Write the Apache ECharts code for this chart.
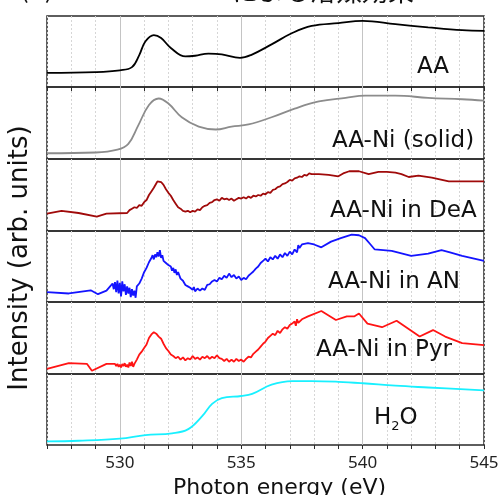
<!DOCTYPE html>
<html>

<head>
	<meta charset="UTF-8" />
	<title></title>
	<style type="text/css">
		* {
			margin: 0;
			padding: 0;
		}

		#main {
			width: 498px;
			height: 495px;
			background-color: #fff;
		}
	</style>
</head>

<body>
	<div id="main"></div>
</body>
<script src="https://cdn.jsdelivr.net/npm/echarts@6/dist/echarts.min.js"></script>
<script type="text/javascript">
	// 横軸のラベル (eV)
	var xLabels = [530, 535, 540, 545]
	var sampleNames = ['AA', 'AA-Ni (solid)', 'AA-Ni in DeA', 'AA-Ni in AN', 'AA-Ni in Pyr', 'H2O']

	// 各スペクトル [photon energy, intensity]
	var aaData = [[527, 0.20], [529, 0.21], [530, 0.235], [530.5, 0.28], [530.8, 0.45], [531.05, 0.64], [531.4, 0.73],
		[531.7, 0.69], [532.1, 0.55], [532.7, 0.43], [533.1, 0.44], [533.65, 0.47], [534.2, 0.46], [534.95, 0.41],
		[535.4, 0.45], [536.25, 0.60], [537.1, 0.76], [537.9, 0.86], [539.0, 0.90], [540.0, 0.93], [541.35, 0.885],
		[542.7, 0.84], [544.1, 0.80], [545, 0.79]]

	var solidData = [[527, 0.08], [529, 0.09], [529.9, 0.13], [530.35, 0.21], [530.75, 0.46], [531.2, 0.75], [531.6, 0.84],
		[532.0, 0.77], [532.55, 0.58], [533.25, 0.45], [533.95, 0.41], [534.6, 0.45], [535.3, 0.48], [536.25, 0.58],
		[537.2, 0.70], [538.2, 0.80], [539.3, 0.85], [540.1, 0.88], [541.35, 0.88], [542.7, 0.85], [544.1, 0.83], [545, 0.81]]

	var deaData = [[527, 0.24], [527.6, 0.28], [528.3, 0.25], [529.05, 0.20], [529.45, 0.24], [530.3, 0.25],
		[530.4, 0.29], [530.5, 0.31], [530.6, 0.33], [530.7, 0.32], [530.8, 0.36], [530.9, 0.35], [531.0, 0.40], [531.1, 0.43],
		[531.2, 0.50], [531.3, 0.55], [531.4, 0.60], [531.5, 0.66], [531.55, 0.69], [531.6, 0.67], [531.7, 0.68], [531.8, 0.64],
		[531.9, 0.58], [532.0, 0.53], [532.1, 0.49], [532.2, 0.43], [532.3, 0.38], [532.4, 0.33], [532.5, 0.31], [532.6, 0.28],
		[532.7, 0.27], [532.8, 0.28], [532.9, 0.26], [533.0, 0.28], [533.1, 0.27], [533.2, 0.30], [533.3, 0.29], [533.4, 0.33],
		[533.5, 0.35], [533.6, 0.36], [533.7, 0.39], [533.8, 0.40], [533.9, 0.43], [534.0, 0.44], [534.1, 0.42], [534.2, 0.46],
		[534.3, 0.44], [534.4, 0.45], [534.5, 0.43], [534.6, 0.45], [534.7, 0.42], [534.8, 0.44], [534.9, 0.46], [535.0, 0.45],
		[535.1, 0.47], [535.2, 0.45], [535.3, 0.48], [535.4, 0.46], [535.5, 0.49], [535.6, 0.48], [535.7, 0.50], [535.8, 0.49],
		[535.9, 0.52], [536.0, 0.51], [536.1, 0.54], [536.2, 0.53], [536.3, 0.57], [536.4, 0.58], [536.5, 0.61], [536.6, 0.62],
		[536.7, 0.65], [536.8, 0.66], [536.9, 0.68], [537.0, 0.71], [537.1, 0.70], [537.2, 0.73], [537.3, 0.74], [537.4, 0.76],
		[537.5, 0.75], [537.6, 0.78], [537.7, 0.77], [537.8, 0.80], [537.9, 0.79], [538.2, 0.79], [538.6, 0.78], [539.0, 0.76],
		[539.2, 0.80], [539.45, 0.83], [539.85, 0.83], [540.25, 0.79], [540.65, 0.82], [541.0, 0.82], [541.35, 0.81],
		[541.6, 0.79], [541.9, 0.75], [542.3, 0.77], [542.85, 0.74], [543.55, 0.69], [544.3, 0.69], [545, 0.69]]

	var anData = [[527, 0.14], [527.9, 0.12], [528.8, 0.165], [529.1, 0.11], [529.45, 0.16],
		[529.6, 0.22], [529.7, 0.26], [529.75, 0.18], [529.8, 0.28], [529.85, 0.14], [529.9, 0.30], [529.95, 0.12], [530.0, 0.27],
		[530.05, 0.08], [530.1, 0.29], [530.15, 0.15], [530.2, 0.25], [530.25, 0.10], [530.3, 0.22], [530.35, 0.12], [530.4, 0.20],
		[530.45, 0.07], [530.5, 0.18], [530.55, 0.09], [530.6, 0.16], [530.65, 0.06], [530.7, 0.22], [530.8, 0.26], [530.9, 0.33],
		[531.0, 0.42], [531.1, 0.48], [531.2, 0.56], [531.3, 0.62], [531.35, 0.66], [531.4, 0.60], [531.45, 0.67], [531.5, 0.63],
		[531.55, 0.70], [531.6, 0.64], [531.65, 0.73], [531.7, 0.62], [531.75, 0.66], [531.8, 0.58], [531.9, 0.55], [532.0, 0.52],
		[532.1, 0.50], [532.15, 0.44], [532.2, 0.48], [532.25, 0.41], [532.3, 0.46], [532.35, 0.38], [532.4, 0.42], [532.5, 0.33],
		[532.6, 0.30], [532.7, 0.24], [532.8, 0.22], [532.9, 0.20], [533.0, 0.17], [533.05, 0.21], [533.1, 0.15], [533.2, 0.19],
		[533.3, 0.16], [533.4, 0.19], [533.5, 0.17], [533.6, 0.24], [533.7, 0.25], [533.8, 0.29], [533.9, 0.31], [534.0, 0.29],
		[534.1, 0.34], [534.2, 0.32], [534.3, 0.37], [534.4, 0.34], [534.5, 0.40], [534.6, 0.35], [534.7, 0.38], [534.8, 0.33],
		[534.9, 0.36], [535.0, 0.31], [535.1, 0.34], [535.2, 0.32], [535.3, 0.37], [535.4, 0.40], [535.5, 0.43], [535.6, 0.47],
		[535.7, 0.50], [535.8, 0.55], [535.9, 0.58], [536.0, 0.61], [536.1, 0.57], [536.2, 0.63], [536.3, 0.60], [536.4, 0.65],
		[536.5, 0.61], [536.6, 0.67], [536.7, 0.63], [536.8, 0.69], [536.9, 0.65], [537.0, 0.71], [537.1, 0.67], [537.2, 0.74],
		[537.3, 0.70], [537.35, 0.80], [537.4, 0.76], [537.5, 0.81], [537.75, 0.83], [538.0, 0.81], [538.3, 0.77], [538.7, 0.85],
		[539.1, 0.90], [539.55, 0.95], [539.85, 0.94], [540.1, 0.90], [540.3, 0.82], [540.5, 0.74], [541.2, 0.72], [542.0, 0.65],
		[542.7, 0.68], [543.25, 0.73], [543.6, 0.70], [544.1, 0.65], [545, 0.58]]

	var pyrData = [[527, 0.07], [527.9, 0.15], [528.65, 0.14], [528.85, 0.045], [529.45, 0.14], [529.8, 0.14],
		[529.85, 0.11], [529.9, 0.14], [529.95, 0.10], [530.0, 0.13], [530.05, 0.09], [530.1, 0.14], [530.15, 0.11], [530.2, 0.15],
		[530.25, 0.10], [530.3, 0.13], [530.35, 0.09], [530.4, 0.16], [530.45, 0.11], [530.5, 0.17], [530.55, 0.10], [530.6, 0.14],
		[530.7, 0.20], [530.8, 0.27], [530.9, 0.31], [531.0, 0.36], [531.1, 0.41], [531.2, 0.50], [531.3, 0.55], [531.35, 0.53],
		[531.4, 0.58], [531.5, 0.56], [531.6, 0.52], [531.7, 0.49], [531.8, 0.42], [531.9, 0.36], [532.0, 0.32], [532.1, 0.27],
		[532.2, 0.25], [532.3, 0.22], [532.4, 0.24], [532.5, 0.20], [532.6, 0.23], [532.7, 0.19], [532.8, 0.22], [532.9, 0.20],
		[533.0, 0.25], [533.1, 0.21], [533.2, 0.23], [533.3, 0.20], [533.4, 0.24], [533.5, 0.22], [533.6, 0.25], [533.7, 0.21],
		[533.8, 0.24], [533.9, 0.22], [534.0, 0.26], [534.1, 0.22], [534.2, 0.21], [534.3, 0.18], [534.4, 0.21], [534.5, 0.17],
		[534.6, 0.20], [534.7, 0.17], [534.8, 0.21], [534.9, 0.18], [535.0, 0.20], [535.1, 0.17], [535.2, 0.21], [535.3, 0.24],
		[535.4, 0.23], [535.5, 0.28], [535.6, 0.31], [535.7, 0.34], [535.8, 0.38], [535.9, 0.42], [536.0, 0.45], [536.1, 0.50],
		[536.2, 0.53], [536.3, 0.56], [536.4, 0.54], [536.5, 0.60], [536.6, 0.57], [536.7, 0.62], [536.8, 0.65], [536.9, 0.63],
		[537.0, 0.68], [537.1, 0.70], [537.2, 0.73], [537.25, 0.67], [537.3, 0.76], [537.35, 0.71], [537.5, 0.76], [537.75, 0.80],
		[538.3, 0.875], [538.9, 0.75], [539.35, 0.80], [539.65, 0.80], [539.85, 0.84], [540.2, 0.70], [540.8, 0.65], [541.4, 0.74],
		[542.35, 0.52], [542.9, 0.61], [543.4, 0.52], [544.1, 0.43], [545, 0.40]]

	var h2oData = [[527, 0.05], [528.3, 0.06], [530, 0.09], [531.05, 0.14], [532.15, 0.165], [532.8, 0.22], [533.4, 0.41],
		[533.8, 0.58], [534.2, 0.66], [535.0, 0.69], [535.45, 0.72], [536.25, 0.85], [537.1, 0.90], [537.9, 0.90], [539.0, 0.89],
		[540.0, 0.87], [541.35, 0.835], [542.7, 0.81], [545, 0.77]]

	var allData = [aaData, solidData, deaData, anData, pyrData, h2oData]
	var colors = ['#000000', '#8c8c8c', '#a00a0a', '#1414ff', '#ff1414', '#19f0ff']
	var smoothFlags = [0.4, 0.4, false, false, false, 0.4]

	// パネルの位置 (px)
	var panelTops = [16, 87, 159, 231, 302, 374]
	var panelBottom = 445
	var labelPos = [[417, 77], [332, 151], [330, 221], [328, 292], [316, 360], [374, 428]]

	var myChart = echarts.init(document.getElementById('main'))

	var grids = [], xAxes = [], yAxes = [], series = []
	panelTops.forEach(function (top, i) {
		var h = (i < 5 ? panelTops[i + 1] : panelBottom) - top
		grids.push({
			left: 47, width: 437, top: top, height: h,
			show: true, borderColor: '#2a2a2a', borderWidth: 1.5,
			outerBoundsMode: 'none'
		})
		var isTop = i === 0, isBottom = i === 5
		xAxes.push({
			type: 'value', gridIndex: i, min: 527, max: 545, interval: 1,
			position: isTop ? 'top' : 'bottom',
			axisLine: { show: false },
			axisTick: {
				show: isTop || isBottom, inside: isTop, length: 4,
				lineStyle: { color: '#2a2a2a', width: 1 }
			},
			axisLabel: {
				show: isBottom,
				fontFamily: 'Noto Sans', fontSize: 17, color: '#222', margin: 10,
				formatter: function (v) { return xLabels.indexOf(v) >= 0 ? v : '' }
			},
			splitLine: { show: true, lineStyle: { color: '#d6d6d6', type: [2, 2], width: 1 } }
		})
		yAxes.push({ type: 'value', gridIndex: i, min: 0, max: 1, show: false })
		series.push({
			name: sampleNames[i],
			type: 'line', xAxisIndex: i, yAxisIndex: i,
			data: allData[i], showSymbol: false, symbol: 'none',
			smooth: smoothFlags[i],
			lineStyle: { color: colors[i], width: 1.8 },
			z: 3,
			markLine: {
				silent: true, symbol: 'none', label: { show: false },
				lineStyle: { color: '#c4c4c4', type: 'solid', width: 1 },
				data: [{ xAxis: 530 }, { xAxis: 535 }, { xAxis: 540 }],
				z: 1
			}
		})
	})

	var latinFont = '"DejaVu Sans", sans-serif'
	var cjkFont = '"Noto Sans CJK JP", sans-serif'
	var labels = sampleNames.map(function (name, i) {
		return {
			type: 'text', left: labelPos[i][0], top: labelPos[i][1] - 21,
			style: {
				text: name === 'H2O' ? '{n|H}{s|2}{n|O}' : name,
				fontFamily: latinFont, fontSize: 23, fill: '#111',
				rich: {
					n: { fontFamily: latinFont, fontSize: 23, fill: '#111' },
					s: { fontFamily: latinFont, fontSize: 13, fill: '#111', verticalAlign: 'bottom', padding: [16, 0, 0, 0] }
				}
			},
			z: 10
		}
	})

	const option = {
		backgroundColor: '#fff',
		animation: false,
		grid: grids,
		xAxis: xAxes,
		yAxis: yAxes,
		series: series,
		graphic: labels.concat([{
			type: 'text', left: 173, top: 477,
			style: { text: 'Photon energy (eV)', fontFamily: latinFont, fontSize: 22, fill: '#111' }
		}, {
			type: 'text', x: 7, y: 258, rotation: Math.PI / 2,
			style: {
				text: 'Intensity (arb. units)', fontFamily: latinFont, fontSize: 26, fill: '#111',
				align: 'center', verticalAlign: 'top'
			}
		}, {
			type: 'text', left: 232, top: -22,
			style: { text: 'による溶媒効果', fontFamily: cjkFont, fontSize: 26, fill: '#111' }
		}, {
			type: 'text', left: 20, top: -25,
			style: { text: '(b)', fontFamily: cjkFont, fontSize: 26, fill: '#111' }
		}])
	}
	myChart.setOption(option)
</script>

</html>
